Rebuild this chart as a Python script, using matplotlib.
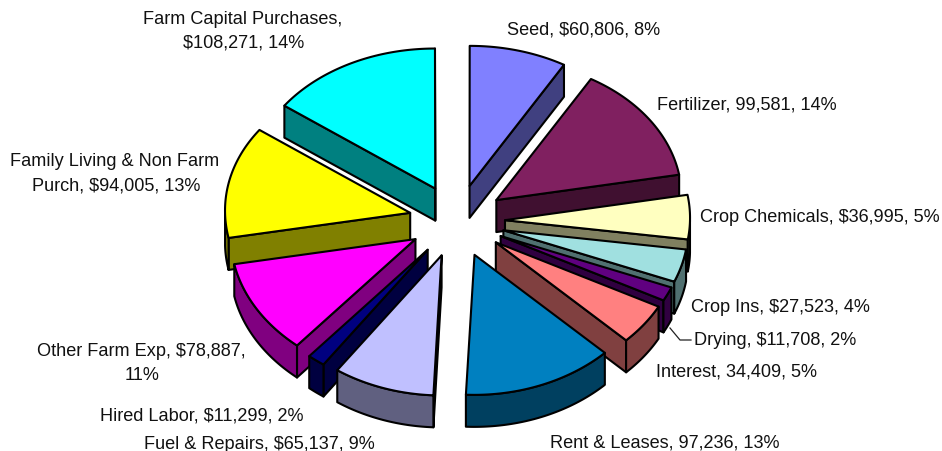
import numpy as np
import matplotlib
matplotlib.use("Agg")
import matplotlib.pyplot as plt

categories = ["Seed", "Fertilizer", "Crop Chemicals", "Crop Ins", "Drying", "Interest",
              "Rent & Leases", "Fuel & Repairs", "Hired Labor", "Other Farm Exp",
              "Family Living & Non Farm Purch", "Farm Capital Purchases"]
values = [60806, 99581, 36995, 27523, 11708, 34409, 97236, 65137, 11299, 78887, 94005, 108271]
top_colors = ["#8080FF", "#802060", "#FFFFC0", "#A0E0E0", "#600080", "#FF8080",
              "#0080C0", "#C0C0FF", "#000080", "#FF00FF", "#FFFF00", "#00FFFF"]
label_lines = ["Seed, $60,806, 8%", "Fertilizer, 99,581, 14%", "Crop Chemicals, $36,995, 5%",
               "Crop Ins, $27,523, 4%", "Drying, $11,708, 2%", "Interest, 34,409, 5%",
               "Rent & Leases, 97,236, 13%", "Fuel & Repairs, $65,137, 9%", "Hired Labor, $11,299, 2%",
               "Other Farm Exp, $78,887,", "11%", "Family Living & Non Farm",
               "Purch, $94,005, 13%", "Farm Capital Purchases,", "$108,271, 14%"]
label_pos = [(584, 30), (747, 105), (820, 218), (780, 308), (775, 341), (737, 372),
             (665, 443), (259, 445), (202, 416), (141, 352), (142, 376), (115, 162),
             (116, 186), (243, 19), (244, 43)]

CX, CY, R, K, FX, EXPL, DEPTH = 457, 222, 185, 0.757, 14000, 48, 32

plt.rcParams["font.family"] = ["Liberation Sans", "DejaVu Sans"]
fig = plt.figure(figsize=(9.42, 4.52), dpi=100)
ax = fig.add_axes([0, 0, 1, 1])
ax.set_xlim(0, 942)
ax.set_ylim(452, 0)
ax.axis("off")


def project(X, Y, z=0.0):
    X, Y = np.atleast_1d(X), np.atleast_1d(Y)
    s = 1 + Y / FX
    return np.column_stack([CX + X * s, CY - K * Y + z * np.ones_like(Y)])


def shade(color):
    return tuple(np.array(matplotlib.colors.to_rgb(color)) * 0.5)


fractions = np.array(values) / np.sum(values)
edges = np.concatenate([[0], np.cumsum(fractions)]) * 2 * np.pi
mids = (edges[:-1] + edges[1:]) / 2
order = np.argsort(-np.cos(mids))  # far slices first

for z, i in enumerate(order):
    a0, a1, am = edges[i], edges[i + 1], mids[i]
    ox, oy = EXPL * np.sin(am), EXPL * np.cos(am)
    t = np.linspace(a0, a1, 80)
    Xa, Ya = ox + R * np.sin(t), oy + R * np.cos(t)
    top_arc = project(Xa, Ya)
    low_arc = project(Xa, Ya, DEPTH)
    apex_top = project(ox, oy)
    apex_low = project(ox, oy, DEPTH)
    side = shade(top_colors[i])
    kw = dict(edgecolor="black", linewidth=1.5, joinstyle="round", zorder=z + 1)
    # radial walls facing the viewer
    if np.sin(a0) < 0:
        ax.fill(*np.vstack([apex_top, top_arc[:1], low_arc[:1], apex_low]).T, facecolor=side, **kw)
    if np.sin(a1) > 0:
        ax.fill(*np.vstack([apex_top, top_arc[-1:], low_arc[-1:], apex_low]).T, facecolor=side, **kw)
    # outer wall, near half only
    front = np.cos(t) < 0
    if front.any():
        ax.fill(*np.vstack([top_arc[front], low_arc[front][::-1]]).T, facecolor=side, **kw)
    ax.fill(*np.vstack([apex_top, top_arc]).T, facecolor=top_colors[i], **kw)

for text, (x, y) in zip(label_lines, label_pos):
    ax.text(x, y, text, ha="center", va="center", fontsize=13.1, color="#111111", zorder=50)

# leader line of the Drying label
ax.plot([670, 680, 691], [329, 341, 341], color="#222222", lw=0.9, zorder=49)

fig.savefig("out.png", dpi=100, facecolor="white")
